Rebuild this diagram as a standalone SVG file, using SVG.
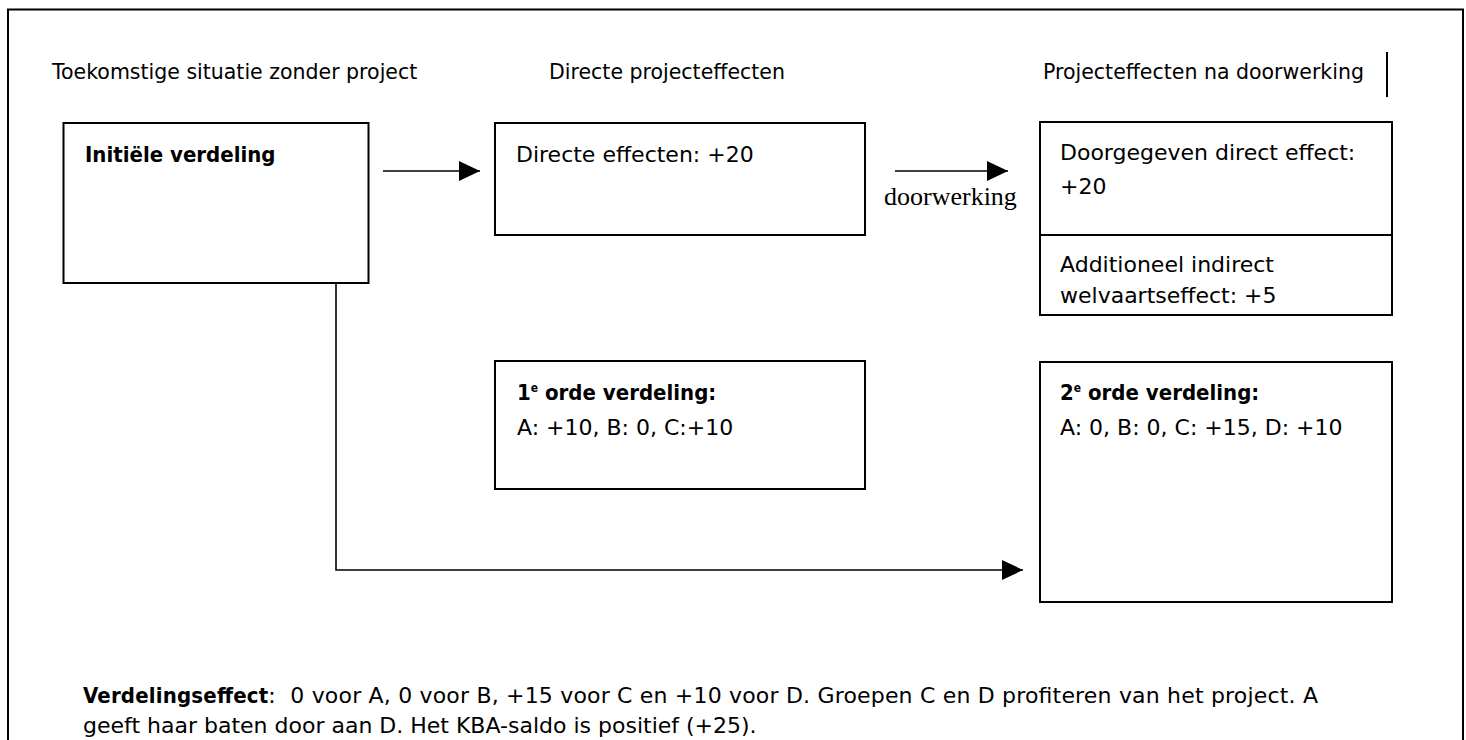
<svg xmlns="http://www.w3.org/2000/svg" width="1466" height="740" viewBox="0 0 1466 740">
<style>
  .box { fill: #ffffff; stroke: #000000; stroke-width: 2; }
  .frame { fill: none; stroke: #000000; stroke-width: 2; }
  .conn { fill: none; stroke: #000000; stroke-width: 1.6; }
  .t { font-family: "DejaVu Sans", "Liberation Sans", sans-serif; font-size: 22px; fill: #000000; }
  .title { font-family: "DejaVu Sans", "Liberation Sans", sans-serif; font-size: 20.5px; fill: #000000; }
  .b { font-family: "DejaVu Sans Condensed", "DejaVu Sans", "Liberation Sans", sans-serif; font-stretch: condensed; font-size: 22px; font-weight: bold; fill: #000000; }
  .sup { font-size: 12px; }
  .serif { font-family: "Liberation Serif", "Times New Roman", serif; font-size: 26px; fill: #000000; }
</style>
<defs>
  <marker id="arrow" markerUnits="userSpaceOnUse" markerWidth="22" markerHeight="20" refX="21" refY="10" orient="auto">
    <path d="M0,0 L21,10 L0,20 Z" fill="#000000"/>
  </marker>
</defs>
<rect width="1466" height="740" fill="#ffffff"/>
<path class="frame" d="M8,740 V9.5 H1463 V740"/>

<g id="titles">
  <text class="title" x="52" y="79">Toekomstige situatie zonder project</text>
  <text class="title" x="549" y="79">Directe projecteffecten</text>
  <text class="title" x="1043" y="79">Projecteffecten na doorwerking</text>
  <line x1="1387" y1="52" x2="1387" y2="97" stroke="#000000" stroke-width="2"/>
</g>

<g id="initiele-verdeling">
  <rect class="box" x="63.5" y="123" width="305" height="160"/>
  <text class="b" x="85" y="162">Initiële verdeling</text>
</g>

<g id="directe-effecten">
  <rect class="box" x="495" y="123" width="370" height="112"/>
  <text class="t" x="516" y="162">Directe effecten: +20</text>
</g>

<g id="doorgegeven">
  <rect class="box" x="1040" y="122" width="352" height="193"/>
  <line x1="1040" y1="235" x2="1392" y2="235" stroke="#000000" stroke-width="2"/>
  <text class="t" x="1060" y="160">Doorgegeven direct effect:</text>
  <text class="t" x="1060" y="194">+20</text>
  <text class="t" x="1060" y="272">Additioneel indirect</text>
  <text class="t" x="1060" y="303">welvaartseffect: +5</text>
</g>

<g id="eerste-orde">
  <rect class="box" x="495" y="361" width="370" height="128"/>
  <text class="b" x="517" y="400">1<tspan class="sup" dy="-8">e</tspan><tspan dy="8"> orde verdeling:</tspan></text>
  <text class="t" x="517" y="435">A: +10, B: 0, C:+10</text>
</g>

<g id="tweede-orde">
  <rect class="box" x="1040" y="362" width="352" height="240"/>
  <text class="b" x="1060" y="400">2<tspan class="sup" dy="-8">e</tspan><tspan dy="8"> orde verdeling:</tspan></text>
  <text class="t" x="1060" y="435">A: 0, B: 0, C: +15, D: +10</text>
</g>

<g id="connectors">
  <line class="conn" x1="383" y1="171" x2="480" y2="171" marker-end="url(#arrow)"/>
  <line class="conn" x1="895" y1="171" x2="1008" y2="171" marker-end="url(#arrow)"/>
  <text class="serif" x="884" y="205">doorwerking</text>
  <polyline class="conn" points="336,282 336,570 1023,570" marker-end="url(#arrow)"/>
</g>

<g id="conclusie">
  <text class="t" x="83" y="703" xml:space="preserve" textLength="1235" lengthAdjust="spacing"><tspan class="b">Verdelingseffect</tspan>:  0 voor A, 0 voor B, +15 voor C en +10 voor D. Groepen C en D profiteren van het project. A</text>
  <text class="t" x="83" y="733">geeft haar baten door aan D. Het KBA-saldo is positief (+25).</text>
</g>
</svg>
